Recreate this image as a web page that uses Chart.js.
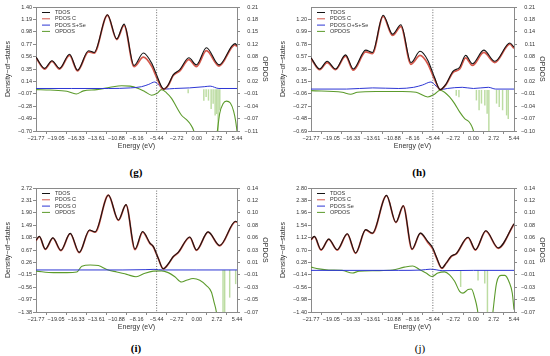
<!DOCTYPE html>
<html>
<head>
<meta charset="utf-8">
<script src="https://cdn.jsdelivr.net/npm/chart.js@4.4.1/dist/chart.umd.min.js"></script>
<style>
  body { margin: 0; background: #fff; width: 550px; height: 356px; position: relative; overflow: hidden; }
  .panel { position: absolute; width: 275px; height: 160px; }
  .tag { position: absolute; font-family: "Liberation Serif", "Times New Roman", serif; font-size: 11px; color: #000; transform: translate(-50%, -50%); }
</style>
</head>
<body>
<div class="panel" style="left:0;top:0"><canvas id="chart-g" width="275" height="160"></canvas></div>
<div class="panel" style="left:275px;top:0"><canvas id="chart-h" width="275" height="160"></canvas></div>
<div class="panel" style="left:0;top:181px"><canvas id="chart-i" width="275" height="160"></canvas></div>
<div class="panel" style="left:275px;top:181px"><canvas id="chart-j" width="275" height="160"></canvas></div>
<div class="tag" style="left:136px;top:172px;font-weight:bold">(g)</div>
<div class="tag" style="left:419px;top:172px;font-weight:bold">(h)</div>
<div class="tag" style="left:136px;top:348px;font-weight:bold">(i)</div>
<div class="tag" style="left:420px;top:348px">(j)</div>

<script>
/* =================================================
   DATA
================================================= */
const FERMI = -5.44;
const energyTicks = [-21.77, -19.05, -16.33, -13.61, -10.88, -8.16, -5.44, -2.72, 0.00, 2.72, 5.44];

// (g) C + S + Se
const gLeftTicks = [-0.70, -0.49, -0.28, -0.07, 0.14, 0.35, 0.56, 0.77, 0.98, 1.19, 1.40];
const gRightLabels = [-0.11, -0.07, -0.04, -0.01, 0.02, 0.05, 0.08, 0.12, 0.15, 0.18, 0.21];
const gE = [-21.77, -20.60, -19.61, -18.58, -17.23, -16.15, -14.66, -13.90, -12.10, -10.84, -9.85, -8.50, -7.24, -6.12, -5.44, -4.77, -4.46, -3.88, -3.20, -2.30, -1.08, -0.05, 1.30, 3.01, 5.17, 5.44];
const gTdos = [0.55, 0.36, 0.49, 0.36, 0.60, 0.33, 0.66, 0.63, 1.27, 0.86, 1.11, 0.41, 0.62, 0.45, 0.25, 0.05, 0.01, 0.08, 0.25, 0.34, 0.54, 0.42, 0.71, 0.42, 0.78, 0.75];
const gPdosC = [0.54, 0.35, 0.48, 0.35, 0.58, 0.32, 0.64, 0.62, 1.26, 0.85, 1.09, 0.39, 0.55, 0.40, 0.21, 0.03, 0.01, 0.07, 0.24, 0.32, 0.51, 0.39, 0.66, 0.40, 0.76, 0.73];
const gXE = [-21.77, -17.0, -12.0, -9.0, -7.5, -6.5, -5.7, -5.0, -4.4, -3.0, -1.0, 1.0, 1.8, 3.0, 5.44];
const gX = [0.02, 0.02, 0.02, 0.03, 0.05, 0.09, 0.13, 0.06, 0.01, 0.02, 0.03, 0.05, 0.06, 0.02, 0.02];
const gOE = [-21.77, -19.84, -17.59, -16.33, -15.34, -13.54, -11.74, -10.17, -9.04, -7.92, -7.02, -6.12, -5.44, -4.77, -4.10, -3.42, -2.75, -2.07, -1.40, -0.86, -0.41, 0.18, 2.20, 2.74, 3.10, 3.55, 4.00, 4.54, 4.99, 5.26, 5.44];
const gO = [0.0, -0.001, -0.004, -0.011, -0.003, 0.0, 0.006, 0.010, 0.009, 0.003, -0.005, -0.014, -0.010, 0.0, -0.008, -0.022, -0.044, -0.065, -0.076, -0.088, -0.105, -0.16, -0.16, -0.11, -0.06, -0.036, -0.029, -0.034, -0.055, -0.08, -0.105];
const gSpikeE = [-1.17, 0.95, 1.26, 1.58, 1.94, 2.21, 2.48, 2.70, 2.88, 3.11];
const gSpike = [-0.008, -0.027, -0.018, -0.027, -0.048, -0.035, -0.065, -0.061, -0.105, -0.052];

// (h) C + O + S + Se
const hLeftTicks = [-0.69, -0.48, -0.27, -0.06, 0.15, 0.36, 0.57, 0.78, 0.99, 1.20];
const hRightLabels = [-0.10, -0.07, -0.04, -0.01, 0.02, 0.05, 0.08, 0.11, 0.14, 0.18, 0.21];
const hE = [-21.77, -20.60, -19.61, -18.49, -17.14, -16.10, -14.44, -13.54, -12.10, -10.84, -9.72, -8.37, -7.15, -6.12, -5.22, -4.46, -3.65, -2.75, -1.85, -1.04, -0.14, 1.39, 2.87, 4.89, 5.44];
const hTdos = [0.55, 0.36, 0.49, 0.36, 0.60, 0.36, 0.68, 0.64, 1.27, 0.95, 1.11, 0.47, 0.66, 0.51, 0.22, 0.01, 0.11, 0.32, 0.39, 0.59, 0.45, 0.68, 0.49, 0.80, 0.73];
const hPdosC = [0.54, 0.35, 0.47, 0.35, 0.58, 0.34, 0.65, 0.62, 1.25, 0.93, 1.08, 0.44, 0.59, 0.45, 0.19, 0.01, 0.10, 0.30, 0.36, 0.55, 0.42, 0.64, 0.47, 0.78, 0.71];
const hXE = [-21.77, -17.0, -13.5, -10.0, -8.0, -6.8, -5.7, -5.0, -4.46, -3.5, -1.5, 0.0, 2.0, 3.0, 5.44];
const hX = [0.02, 0.02, 0.04, 0.03, 0.05, 0.09, 0.14, 0.07, 0.01, 0.03, 0.05, 0.03, 0.05, 0.02, 0.02];
const hOE = [-21.77, -17.59, -16.46, -15.56, -13.09, -9.49, -7.69, -6.12, -5.22, -4.46, -3.87, -3.20, -2.52, -1.85, -1.17, -0.59, -0.18, 0.04, 0.40, 5.44];
const hO = [-0.001, -0.005, -0.010, -0.005, -0.003, -0.003, -0.005, -0.017, -0.010, 0.0, -0.005, -0.017, -0.034, -0.055, -0.072, -0.080, -0.093, -0.106, -0.15, -0.15];
const hSpikeE = [-2.30, -1.94, 0.40, 0.76, 1.08, 1.53, 1.84, 2.07, 3.10, 3.46, 3.91, 4.45, 4.67];
const hSpike = [-0.013, -0.017, -0.025, -0.05, -0.033, -0.038, -0.059, -0.11, -0.033, -0.042, -0.05, -0.063, -0.072];

// (i) C + O
const iLeftTicks = [-1.38, -0.97, -0.56, -0.15, 0.26, 0.67, 1.08, 1.49, 1.90, 2.31, 2.72];
const iRightLabels = [-0.07, -0.05, -0.03, -0.01, 0.01, 0.03, 0.06, 0.08, 0.10, 0.12, 0.14];
const iE = [-21.77, -21.32, -20.51, -19.48, -18.40, -17.14, -15.92, -14.53, -13.77, -11.97, -10.62, -9.58, -8.37, -7.33, -6.35, -5.90, -5.22, -4.55, -3.87, -3.20, -2.52, -0.95, -0.05, 1.53, 3.10, 5.26, 5.44];
const iTdos = [0.99, 1.12, 0.70, 1.07, 0.66, 1.22, 0.59, 1.33, 1.27, 2.49, 1.66, 2.17, 0.70, 1.28, 0.90, 0.79, 0.40, 0.05, 0.21, 0.45, 0.59, 1.10, 0.67, 1.27, 0.82, 1.62, 1.60];
const iPdosC = [0.98, 1.11, 0.69, 1.06, 0.65, 1.21, 0.58, 1.32, 1.26, 2.48, 1.65, 2.16, 0.68, 1.26, 0.89, 0.78, 0.39, 0.05, 0.20, 0.44, 0.58, 1.09, 0.66, 1.26, 0.81, 1.61, 1.59];
const iXE = [-21.77, -10.0, -7.0, -5.8, -4.6, 0.0, 5.44];
const iX = [0.01, 0.01, 0.02, 0.03, 0.01, 0.01, 0.01];
const iOE = [-21.77, -19.39, -17.59, -16.24, -15.56, -14.44, -13.32, -12.19, -10.84, -9.49, -8.23, -7.02, -5.90, -4.77, -3.87, -2.97, -2.07, -1.40, -0.50, 0.40, 1.30, 1.97, 2.33, 2.65, 3.10, 5.44];
const iO = [-0.0015, -0.004, -0.004, -0.003, 0.007, 0.009, 0.008, 0.0015, -0.003, -0.007, -0.011, -0.005, -0.0015, -0.001, -0.004, -0.011, -0.020, -0.017, -0.014, -0.017, -0.026, -0.037, -0.054, -0.071, -0.12, -0.12];
const iSpikeE = [3.55, 3.77, 4.45, 5.26];
const iSpike = [-0.12, -0.12, -0.046, -0.023];

// (j) C + Se
const jLeftTicks = [-1.40, -0.98, -0.56, -0.14, 0.28, 0.70, 1.12, 1.54, 1.96, 2.38, 2.80];
const jRightLabels = [-0.07, -0.05, -0.03, -0.01, 0.01, 0.04, 0.06, 0.08, 0.10, 0.12, 0.14];
const jE = [-21.77, -21.32, -20.42, -19.39, -18.26, -16.91, -15.79, -14.44, -13.54, -11.65, -10.39, -9.40, -8.23, -7.11, -6.12, -5.45, -5.00, -4.23, -3.65, -2.97, -2.30, -0.72, 0.27, 1.66, 3.32, 5.44];
const jTdos = [1.05, 1.16, 0.71, 1.07, 0.71, 1.25, 0.60, 1.39, 1.27, 2.55, 1.64, 2.20, 0.73, 1.27, 0.99, 0.77, 0.49, 0.09, 0.26, 0.49, 0.58, 1.13, 0.71, 1.35, 0.77, 1.59];
const jPdosC = [1.04, 1.15, 0.70, 1.06, 0.70, 1.24, 0.59, 1.38, 1.26, 2.54, 1.63, 2.19, 0.72, 1.26, 0.96, 0.74, 0.47, 0.08, 0.25, 0.48, 0.57, 1.12, 0.70, 1.34, 0.76, 1.58];
const jXE = [-21.77, -10.0, -7.0, -5.8, -5.0, -4.2, 0.0, 5.44];
const jX = [0.01, 0.01, 0.02, 0.05, 0.03, 0.0, 0.01, 0.01];
const jOE = [-21.77, -20.73, -19.39, -17.59, -16.24, -15.34, -13.09, -10.84, -9.27, -8.14, -7.24, -6.35, -5.58, -4.77, -3.87, -3.20, -2.52, -1.85, -1.40, -0.72, -0.27, 0.18, 0.54, 0.85, 2.20, 2.65, 3.10, 3.77, 4.22, 4.81, 5.21, 5.44];
const jO = [0.006, 0.003, 0.001, 0.0005, -0.004, -0.001, 0.0, 0.001, 0.006, 0.008, 0.002, -0.004, -0.010, -0.004, -0.002, -0.007, -0.018, -0.035, -0.038, -0.032, -0.031, -0.046, -0.066, -0.10, -0.12, -0.066, -0.021, -0.008, -0.008, -0.020, -0.038, -0.066];
const jSpikeE = [-1.71, 0.62, 1.52, 1.88];
const jSpike = [-0.027, -0.016, -0.021, -0.12];

/* =================================================
   CHARTS
================================================= */
const COLORS = { tdos: '#141414', pdosC: '#d5584c', pdosX: '#2d36d4', opdos: '#5c9b2c', spike: '#bcdca2' };
const TXT = '#333';
const FONT = '"Liberation Sans", Arial, sans-serif';

function pts(xs, ys) { return xs.map((x, i) => ({ x, y: ys[i] })); }
function fmt(v) { return (v < -1e-9 ? '\u2212' : '') + Math.abs(v).toFixed(2); }

const panelDecor = {
  id: 'panelDecor',
  afterDatasetsDraw(chart) {
    const { ctx, chartArea: a, scales } = chart;
    const fx = scales.x.getPixelForValue(FERMI);
    ctx.save();
    ctx.strokeStyle = '#444';
    ctx.lineWidth = 0.8;
    ctx.setLineDash([1, 1.6]);
    ctx.beginPath(); ctx.moveTo(fx, a.top); ctx.lineTo(fx, a.bottom); ctx.stroke();
    ctx.setLineDash([]);
    ctx.strokeStyle = '#8a8a8a';
    ctx.lineWidth = 1;
    ctx.beginPath(); ctx.moveTo(a.left, a.top + 0.5); ctx.lineTo(a.right, a.top + 0.5); ctx.stroke();
    ctx.restore();
  },
  afterDraw(chart) {
    const { ctx, chartArea: a } = chart;
    ctx.save();
    // legend, top-left inside the plot
    ctx.font = '5.5px ' + FONT;
    ctx.textBaseline = 'middle';
    ctx.textAlign = 'left';
    chart.data.datasets.filter(d => d.label).forEach((d, i) => {
      const y = a.top + 5.5 + i * 6.3;
      ctx.strokeStyle = d.borderColor;
      ctx.lineWidth = 1;
      ctx.beginPath(); ctx.moveTo(a.left + 6, y); ctx.lineTo(a.left + 14, y); ctx.stroke();
      ctx.fillStyle = TXT;
      ctx.fillText(d.label, a.left + 19, y);
    });
    // right axis title
    ctx.translate(a.right + 28, (a.top + a.bottom) / 2);
    ctx.rotate(Math.PI / 2);
    ctx.font = '7px ' + FONT;
    ctx.textAlign = 'center';
    ctx.fillStyle = TXT;
    ctx.fillText('OPDOS', 0, 0);
    ctx.restore();
  }
};

function buildPanel(id, p) {
  const step = (p.rMax - p.rMin) / (p.rLabels.length - 1);
  return new Chart(document.getElementById(id), {
    type: 'line',
    data: {
      datasets: [
        { label: 'TDOS', data: pts(p.e, p.tdos), borderColor: COLORS.tdos, borderWidth: 1.1, yAxisID: 'y', order: 1 },
        { label: 'PDOS C', data: pts(p.e, p.pdosC), borderColor: COLORS.pdosC, borderWidth: 1.8, yAxisID: 'y', order: 2 },
        { label: p.xName, data: pts(p.xe, p.x), borderColor: COLORS.pdosX, borderWidth: 1, yAxisID: 'y', order: 3 },
        { label: 'OPDOS', data: pts(p.oe, p.o), borderColor: COLORS.opdos, borderWidth: 1.1, yAxisID: 'y2', order: 4 },
        { type: 'bar', label: '', data: pts(p.se, p.s), backgroundColor: COLORS.spike, barThickness: 0.8, yAxisID: 'y2', order: 5 }
      ]
    },
    options: {
      responsive: false, animation: false, events: [],
      layout: { padding: { top: 7, right: p.padRight, left: 0, bottom: 0 } },
      elements: { point: { radius: 0 }, line: { cubicInterpolationMode: 'monotone', fill: false } },
      plugins: { legend: { display: false }, tooltip: { enabled: false } },
      scales: {
        x: {
          type: 'linear', min: energyTicks[0], max: energyTicks[energyTicks.length - 1], offset: false,
          afterBuildTicks: s => { s.ticks = energyTicks.map(v => ({ value: v })); },
          afterFit: s => { s.height = 29; },
          ticks: { callback: v => fmt(v), font: { size: 5.5, family: FONT }, color: TXT, padding: 1, maxRotation: 0, autoSkip: false },
          grid: { drawOnChartArea: false, tickLength: 3, color: '#8a8a8a' },
          border: { color: '#8a8a8a' },
          title: { display: true, text: 'Energy (eV)', font: { size: 7, family: FONT }, color: TXT, padding: { top: 0, bottom: 10 } }
        },
        y: {
          position: 'left', min: p.lMin, max: p.lMax,
          afterBuildTicks: s => { s.ticks = p.lTicks.map(v => ({ value: v })); },
          afterFit: s => { s.width = 36; },
          ticks: { callback: v => fmt(v), font: { size: 5.5, family: FONT }, color: TXT, padding: 1 },
          grid: { drawOnChartArea: false, tickLength: 3, color: '#8a8a8a' },
          border: { color: '#8a8a8a' },
          title: { display: true, text: 'Density\u2212of\u2212states', font: { size: 7, family: FONT }, color: TXT, padding: { top: 4, bottom: 0 } }
        },
        y2: {
          position: 'right', min: p.rMin, max: p.rMax,
          afterBuildTicks: s => { s.ticks = p.rLabels.map((_, i) => ({ value: p.rMin + i * step })); },
          afterFit: s => { s.width = 21; },
          ticks: { callback: (v, i) => fmt(p.rLabels[i]), font: { size: 5.5, family: FONT }, color: TXT, padding: 1, crossAlign: 'far' },
          grid: { drawOnChartArea: false, tickLength: 3, color: '#8a8a8a' },
          border: { color: '#8a8a8a' }
        }
      }
    },
    plugins: [panelDecor]
  });
}

buildPanel('chart-g', {
  e: gE, tdos: gTdos, pdosC: gPdosC, xName: 'PDOS S+Se', xe: gXE, x: gX, oe: gOE, o: gO, se: gSpikeE, s: gSpike,
  lMin: -0.70, lMax: 1.40, lTicks: gLeftTicks, rMin: -0.105, rMax: 0.21, rLabels: gRightLabels, padRight: 17
});
buildPanel('chart-h', {
  e: hE, tdos: hTdos, pdosC: hPdosC, xName: 'PDOS O+S+Se', xe: hXE, x: hX, oe: hOE, o: hO, se: hSpikeE, s: hSpike,
  lMin: -0.69, lMax: 1.41, lTicks: hLeftTicks, rMin: -0.1035, rMax: 0.2115, rLabels: hRightLabels, padRight: 15
});
buildPanel('chart-i', {
  e: iE, tdos: iTdos, pdosC: iPdosC, xName: 'PDOS O', xe: iXE, x: iX, oe: iOE, o: iO, se: iSpikeE, s: iSpike,
  lMin: -1.38, lMax: 2.72, lTicks: iLeftTicks, rMin: -0.071, rMax: 0.14, rLabels: iRightLabels, padRight: 17
});
buildPanel('chart-j', {
  e: jE, tdos: jTdos, pdosC: jPdosC, xName: 'PDOS Se', xe: jXE, x: jX, oe: jOE, o: jO, se: jSpikeE, s: jSpike,
  lMin: -1.40, lMax: 2.80, lTicks: jLeftTicks, rMin: -0.07, rMax: 0.14, rLabels: jRightLabels, padRight: 15
});
</script>
</body>
</html>
